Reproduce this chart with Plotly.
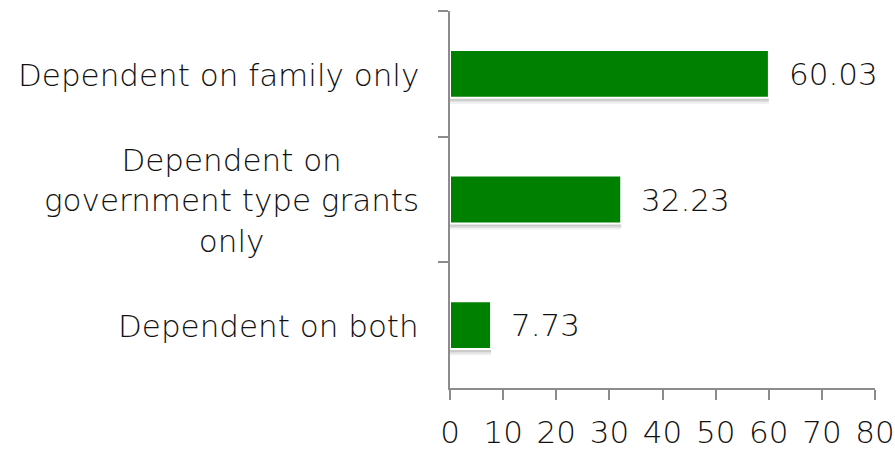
import plotly.graph_objects as go

# Share of respondents by source of financial support (%)
categories = [
    "Dependent on family only",
    "Dependent on<br>government type grants<br>only",
    "Dependent on both",
]
values = [60.03, 32.23, 7.73]
x_ticks = [0, 10, 20, 30, 40, 50, 60, 70, 80]

FONT = "DejaVu Sans"
TEXT = "#111111"
AXIS = "#8c8c8c"
GREEN = "#008000"
BAR_W = 0.38

fig = go.Figure()

# soft drop shadow under each bar, built from a few faint layers
for shift, alpha in [(0.05, 0.05), (0.037, 0.07), (0.024, 0.09)]:
    fig.add_trace(go.Bar(
        y=categories, x=values, orientation="h",
        width=BAR_W, offset=-BAR_W / 2 + shift,
        marker=dict(color=f"rgba(0,0,0,{alpha})", line=dict(width=0)),
        hoverinfo="skip", showlegend=False,
    ))
fig.add_trace(go.Bar(
    y=categories, x=values, orientation="h",
    width=BAR_W, offset=-BAR_W / 2,
    marker=dict(color=GREEN, line=dict(color="white", width=2)),
    showlegend=False,
))

# value labels to the right of each bar
for cat, val in zip(categories, values):
    fig.add_annotation(
        x=val, y=cat, xref="x", yref="y",
        text=f"{val:.2f}", showarrow=False,
        xanchor="left", yanchor="middle", xshift=18,
        font=dict(family=FONT, size=31, color=TEXT, weight=300),
    )

# category labels, centred line by line and right-aligned to the axis
for cat in categories:
    fig.add_annotation(
        x=0, y=cat, xref="paper", yref="y",
        text=cat, showarrow=False, align="center",
        xanchor="right", yanchor="middle", xshift=-29, yshift=-1,
        font=dict(family=FONT, size=31, color=TEXT, weight=300),
    )

fig.update_layout(
    width=895, height=449,
    margin=dict(l=450, r=20, t=11, b=61, autoexpand=False),
    paper_bgcolor="white", plot_bgcolor="white",
    barmode="overlay",
    font=dict(family=FONT, size=31, color=TEXT),
)
fig.update_xaxes(
    range=[0, 80], tickvals=x_ticks, ticktext=[str(t) for t in x_ticks],
    showgrid=False, zeroline=False,
    showline=True, linecolor=AXIS, linewidth=2,
    ticks="outside", ticklen=10, tickwidth=2, tickcolor=AXIS,
    ticklabelstandoff=6,
    tickfont=dict(family=FONT, size=31, color=TEXT, weight=300),
    automargin=False, fixedrange=True,
)
fig.update_yaxes(
    type="category", autorange="reversed",
    showticklabels=False, showgrid=False, zeroline=False,
    showline=True, linecolor=AXIS, linewidth=2,
    ticks="outside", ticklen=10, tickwidth=2, tickcolor=AXIS,
    tickson="boundaries",
    automargin=False, fixedrange=True,
)

fig.write_html("out.html", config={"displayModeBar": False})
